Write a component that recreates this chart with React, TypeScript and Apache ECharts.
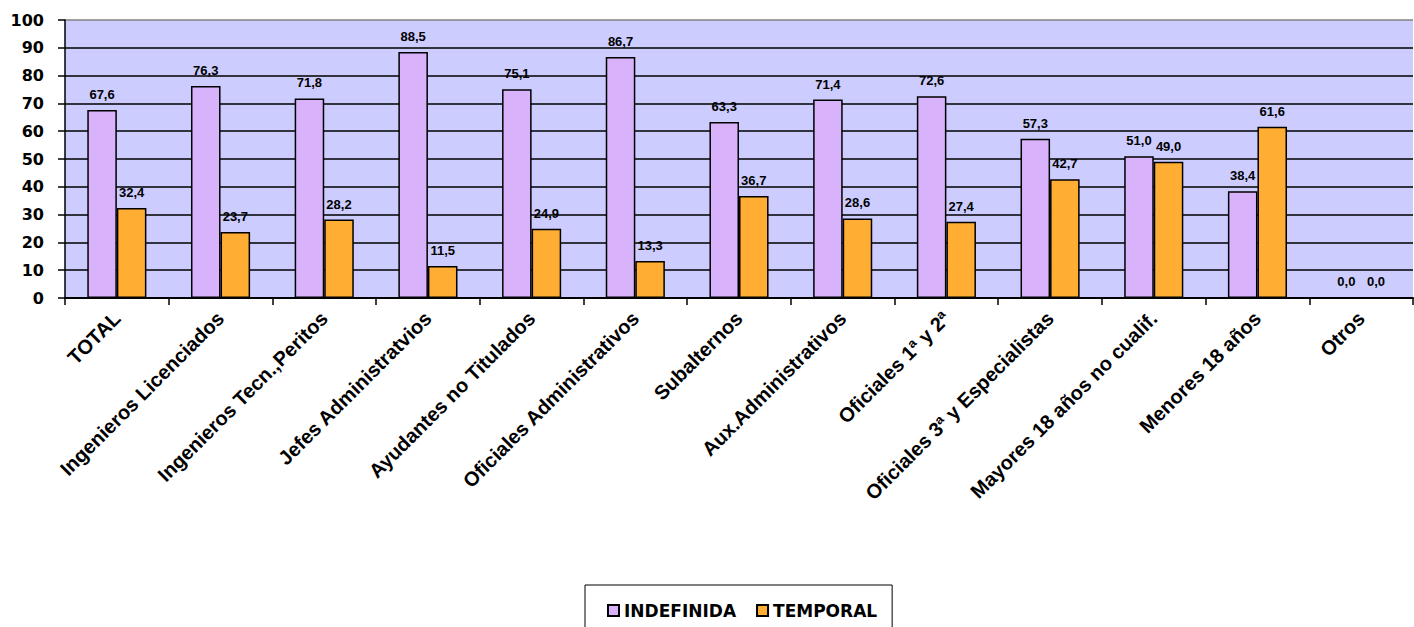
import React, { useEffect, useRef } from "react";
import * as echarts from "echarts";

const categories = [
  "TOTAL",
  "Ingenieros Licenciados",
  "Ingenieros Tecn.,Peritos",
  "Jefes Administratvios",
  "Ayudantes no Titulados",
  "Oficiales Administrativos",
  "Subalternos",
  "Aux.Administrativos",
  "Oficiales 1ª y 2ª",
  "Oficiales 3ª y Especialistas",
  "Mayores 18 años no cualif.",
  "Menores 18 años",
  "Otros",
];
const indefinida = [67.6, 76.3, 71.8, 88.5, 75.1, 86.7, 63.3, 71.4, 72.6, 57.3, 51.0, 38.4, 0.0];
const temporal = [32.4, 23.7, 28.2, 11.5, 24.9, 13.3, 36.7, 28.6, 27.4, 42.7, 49.0, 61.6, 0.0];
const yTicks = [0, 10, 20, 30, 40, 50, 60, 70, 80, 90, 100];

const fmt = (v: number) => v.toFixed(1).replace(".", ",");

export default function App() {
  const ref = useRef<HTMLDivElement>(null);
  useEffect(() => {
    if (!ref.current) return;
    document.body.style.overflow = "hidden";
    const chart = echarts.init(ref.current, null, { renderer: "svg" });
    const labelStyle = {
      show: true,
      position: "top" as const,
      distance: 9,
      fontFamily: "Liberation Sans, Arial, sans-serif",
      fontWeight: "bold" as const,
      fontSize: 13,
      color: "#000",
      formatter: (p: any) => fmt(p.value),
    };
    chart.setOption({
      animation: false,
      backgroundColor: "#fff",
      grid: {
        left: 65,
        right: 1,
        top: 20,
        bottom: 329,
        show: true,
        backgroundColor: "#CCCCFF",
        borderWidth: 0,
      },
      legend: {
        show: true,
        left: 585,
        top: 585,
        orient: "horizontal",
        data: ["INDEFINIDA", "TEMPORAL"],
        itemWidth: 11,
        itemHeight: 11,
        itemGap: 20,
        padding: [17, 15, 20, 22],
        borderColor: "#000",
        borderWidth: 1,
        icon: "rect",
        textStyle: {
          fontFamily: "DejaVu Sans, sans-serif",
          fontWeight: "bold",
          fontSize: 17,
          color: "#000",
        },
      },
      xAxis: {
        type: "category",
        data: categories,
        axisLine: { show: true, lineStyle: { color: "#000", width: 2 } },
        axisTick: { show: true, length: 7, lineStyle: { color: "#000", width: 1.5 } },
        axisLabel: {
          rotate: 45,
          interval: 0,
          margin: 17,
          fontFamily: "Liberation Sans, Arial, sans-serif",
          fontWeight: "bold",
          fontSize: 20,
          color: "#000",
        },
        splitLine: { show: false },
      },
      yAxis: {
        type: "value",
        min: 0,
        max: 100,
        interval: 10,
        axisLine: { show: true, lineStyle: { color: "#000", width: 1.5 } },
        axisTick: { show: true, length: 7, lineStyle: { color: "#000", width: 1.5 } },
        axisLabel: {
          margin: 21,
          fontFamily: "DejaVu Sans, sans-serif",
          fontWeight: "bold",
          fontSize: 16,
          color: "#000",
          formatter: (v: number) => (yTicks.includes(v) ? String(v) : ""),
        },
        splitLine: {
          show: true,
          lineStyle: {
            color: ["#000", "#000", "#000", "#000", "#000", "#000", "#000", "#000", "#000", "#000", "#808080"],
            width: 1.5,
          },
        },
      },
      series: [
        {
          name: "INDEFINIDA",
          type: "bar",
          data: indefinida,
          barGap: "0%",
          barCategoryGap: "43%",
          itemStyle: { color: "#D8B2FA", borderColor: "#000", borderWidth: 1.5 },
          label: labelStyle,
        },
        {
          name: "TEMPORAL",
          type: "bar",
          data: temporal,
          itemStyle: { color: "#FFAD33", borderColor: "#000", borderWidth: 1.5 },
          label: labelStyle,
        },
      ],
    });
    return () => chart.dispose();
  }, []);
  return (
    <div
      ref={ref}
      style={{ position: "fixed", left: 0, top: 0, width: 1414, height: 627 }}
    />
  );
}
